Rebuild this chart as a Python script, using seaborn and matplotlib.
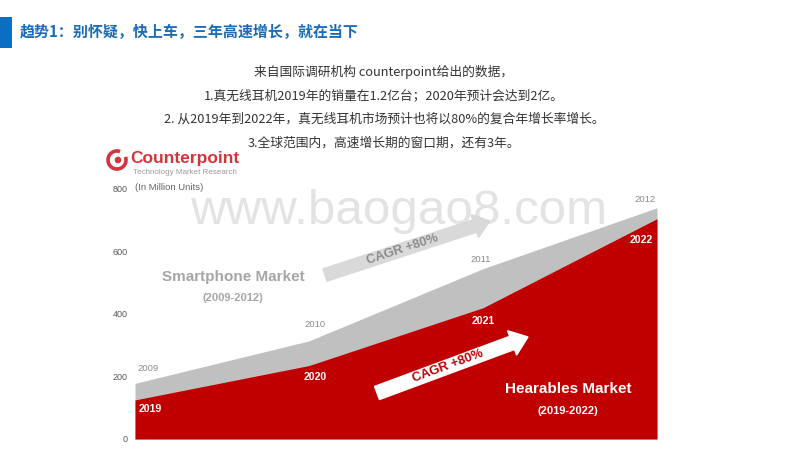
import matplotlib
matplotlib.use("Agg")
import matplotlib.pyplot as plt
from matplotlib.patches import FancyArrow, Arc, Circle, Rectangle
from matplotlib.transforms import IdentityTransform
import seaborn as sns
import numpy as np

# 数据（单位：百万台）
years_idx = [0, 1, 2, 3]
smartphone_years = ["2009", "2010", "2011", "2012"]
hearables_years = ["2019", "2020", "2021", "2022"]
smartphone_units = [178, 314, 545, 740]
hearables_units = [125, 235, 420, 705]
y_ticks = [0, 200, 400, 600, 800]

title = "趋势1：别怀疑，快上车，三年高速增长，就在当下"
notes = [
    "来自国际调研机构 counterpoint给出的数据，",
    "1.真无线耳机2019年的销量在1.2亿台；2020年预计会达到2亿。",
    "2. 从2019年到2022年，真无线耳机市场预计也将以80%的复合年增长率增长。",
    "3.全球范围内，高速增长期的窗口期，还有3年。",
]

RED = "#c00000"
GRAY = "#c0c0c0"
W, H = 800, 450

sns.set_theme(style="white")
plt.rcParams["font.family"] = ["Noto Sans CJK SC", "DejaVu Sans"]
LAT = ["Liberation Sans", "DejaVu Sans"]

fig = plt.figure(figsize=(8, 4.5), dpi=100)
fig.patch.set_facecolor("white")


def fx(x):
    return x / W


def fy(y):
    return 1 - y / H


# 标题栏
fig.add_artist(Rectangle((0, 450 - 48), 12, 31, transform=IdentityTransform(),
                         facecolor="#0a6fc2", edgecolor="none"))
fig.text(fx(20), fy(32), title, color="#1a6bb8", fontsize=10.8,
         fontweight="bold", va="center", ha="left")

# 说明文字
for i, line in enumerate(notes):
    fig.text(fx(384), fy(72 + i * 23.7), line, color="#333333", fontsize=9.2,
             ha="center", va="center")

# 面积图
ax = fig.add_axes([fx(135), fy(439), (657 - 135) / W, (439 - 189) / H])
ax.fill_between(years_idx, 0, smartphone_units, color=GRAY, linewidth=0, zorder=1)
ax.fill_between(years_idx, 0, hearables_units, color=RED, linewidth=0, zorder=2)
ax.set_xlim(0, 3)
ax.set_ylim(0, 800)
ax.set_xticks([])
ax.set_yticks(y_ticks)
ax.set_yticklabels([str(t) for t in y_ticks], color="#595959", fontsize=6.5,
                   family=LAT)
ax.tick_params(axis="y", length=0, pad=5.5)
sns.despine(ax=ax, left=True, bottom=True)
ax.patch.set_alpha(0)

# 年份标签
sp_offsets = [(13, 15), (6, 16), (-2, 9), (-12, 8)]
for x, v, lab, off in zip(years_idx, smartphone_units, smartphone_years, sp_offsets):
    ax.annotate(lab, (x, v), xytext=off, textcoords="offset pixels",
                ha="center", va="center", color="#8c8c8c", fontsize=6.8,
                family=LAT, zorder=5, annotation_clip=False)
he_offsets = [(15, -9), (6, -11), (0, -13), (-16, -21)]
for x, v, lab, off in zip(years_idx, hearables_units, hearables_years, he_offsets):
    ax.annotate(lab, (x, v), xytext=off, textcoords="offset pixels",
                ha="center", va="center", color="white", fontsize=7.6,
                fontweight="bold", family=LAT, zorder=5, annotation_clip=False)

# 水印
fig.text(fx(399), fy(211), "www.baogao8.com", color="#e3e3e3", fontsize=35.5,
         family=LAT, ha="center", va="center", zorder=0.5)

# 市场标签
fig.text(fx(233), fy(277), "Smartphone Market", color="#a6a6a6", fontsize=11,
         fontweight="bold", family=LAT, ha="center", va="center")
fig.text(fx(233), fy(298), "(2009-2012)", color="#a6a6a6", fontsize=8,
         fontweight="bold", family=LAT, ha="center", va="center")
fig.text(fx(568), fy(389), "Hearables Market", color="white", fontsize=11,
         fontweight="bold", family=LAT, ha="center", va="center", zorder=6)
fig.text(fx(568), fy(411), "(2019-2022)", color="white", fontsize=8,
         fontweight="bold", family=LAT, ha="center", va="center", zorder=6)


# CAGR 箭头
def arrow(x0, y0, x1, y1, color, text, tcolor, width, hw, hl):
    fig.add_artist(FancyArrow(x0, H - y0, x1 - x0, -(y1 - y0), width=width,
                              head_width=hw, head_length=hl,
                              length_includes_head=True, color=color,
                              transform=IdentityTransform(), zorder=4))
    ang = np.degrees(np.arctan2(-(y1 - y0), x1 - x0))
    tx = x0 + (x1 - x0) * 0.47
    ty = y0 + (y1 - y0) * 0.47
    fig.text(fx(tx), fy(ty), text, color=tcolor, fontsize=9.3, fontweight="bold",
             family=LAT, rotation=ang, rotation_mode="anchor",
             ha="center", va="center", zorder=5)


arrow(325, 275, 490, 221, "#d9d9d9", "CAGR +80%", "#8c8c8c", 13, 24, 16)
arrow(377, 393, 528, 337, "white", "CAGR +80%", RED, 14, 26, 17)

# Counterpoint 标志
logo_red = "#d5343c"
fig.add_artist(Arc((117, H - 160), 18, 18, theta1=70, theta2=20,
                   transform=IdentityTransform(), color=logo_red, linewidth=2.6))
fig.add_artist(Circle((118, H - 160), 2.6, transform=IdentityTransform(),
                      color=logo_red))
fig.text(fx(130), fy(159), "Counterpoint", color=logo_red, fontsize=12.5,
         fontweight="bold", family=LAT, ha="left", va="center")
fig.text(fx(133), fy(172), "Technology Market Research", color="#9a9a9a",
         fontsize=5.8, family=LAT, ha="left", va="center")
fig.text(fx(135), fy(188), "(In Million Units)", color="#666666", fontsize=6.8,
         family=LAT, ha="left", va="center")

fig.savefig("out.png", dpi=100)
